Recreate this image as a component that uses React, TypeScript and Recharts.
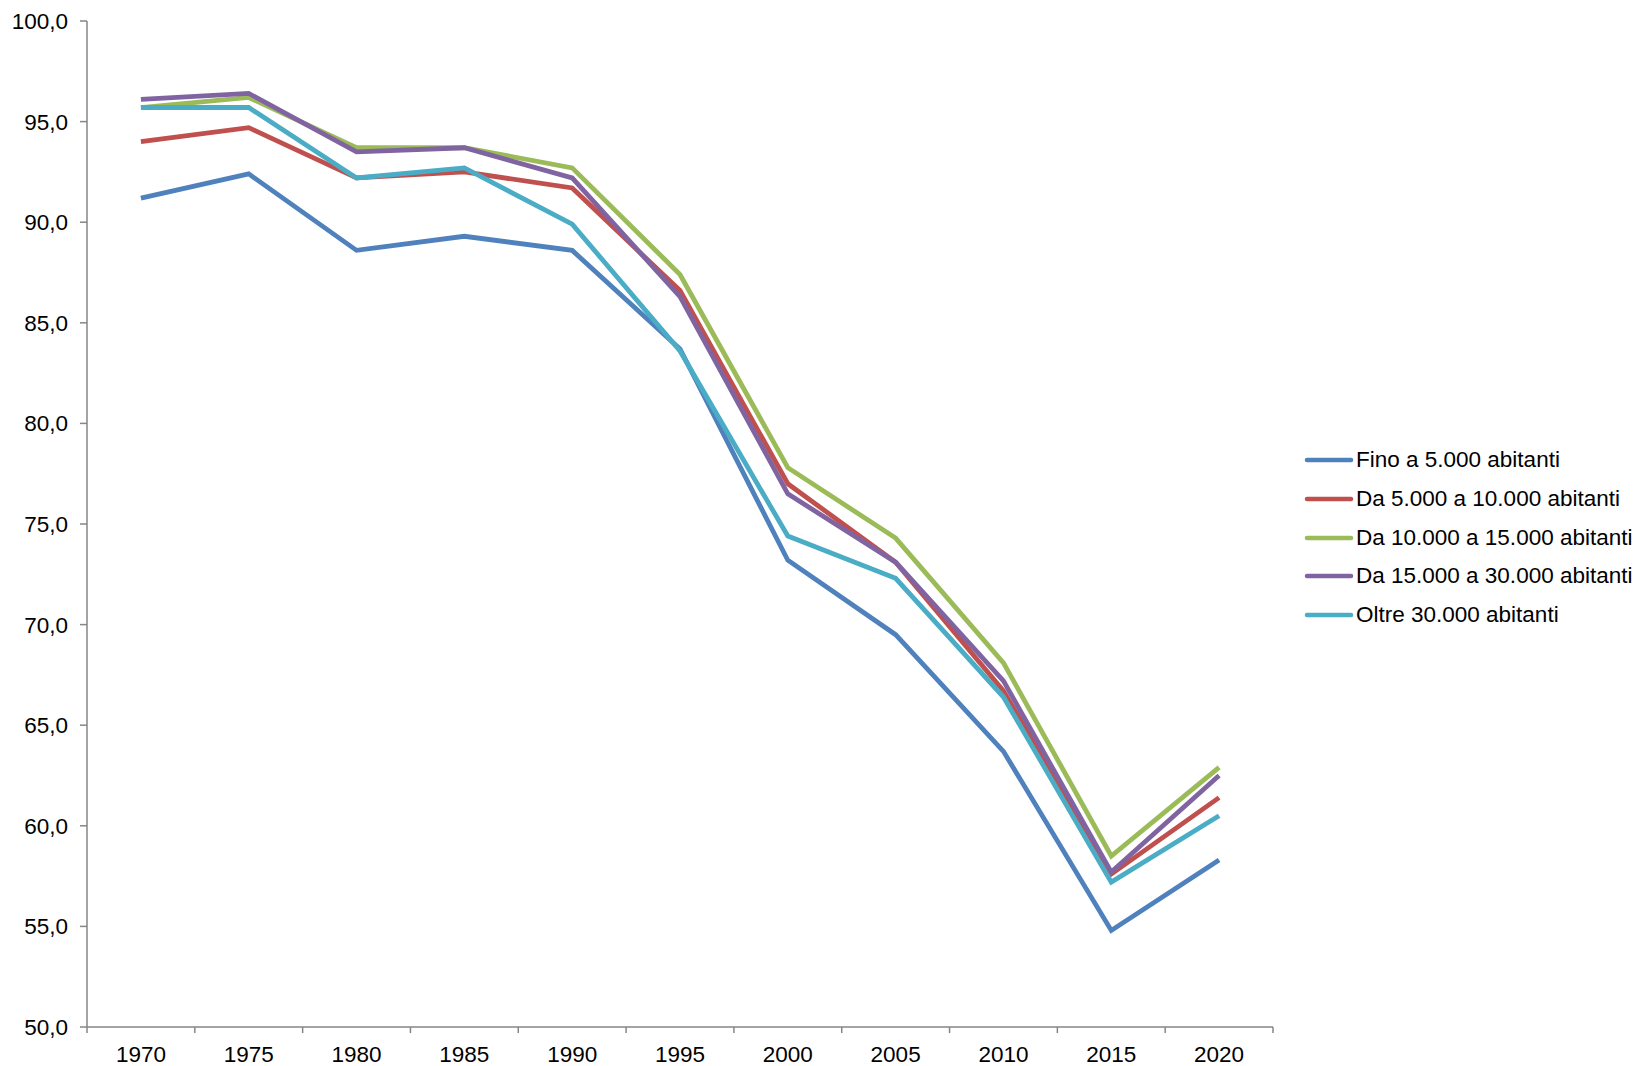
import { Line, LineChart, ReferenceLine, XAxis, YAxis } from "recharts";

const years = [1970, 1975, 1980, 1985, 1990, 1995, 2000, 2005, 2010, 2015, 2020];
const fino5000 = [91.2, 92.4, 88.6, 89.3, 88.6, 83.7, 73.2, 69.5, 63.7, 54.8, 58.3];
const da5a10 = [94.0, 94.7, 92.2, 92.5, 91.7, 86.6, 77.0, 73.1, 66.7, 57.6, 61.4];
const da10a15 = [95.7, 96.2, 93.7, 93.7, 92.7, 87.4, 77.8, 74.3, 68.1, 58.5, 62.9];
const da15a30 = [96.1, 96.4, 93.5, 93.7, 92.2, 86.3, 76.5, 73.1, 67.2, 57.7, 62.5];
const oltre30 = [95.7, 95.7, 92.2, 92.7, 89.9, 83.6, 74.4, 72.3, 66.4, 57.2, 60.5];

const yTicks = [50, 55, 60, 65, 70, 75, 80, 85, 90, 95, 100];
// category boundaries (Excel puts tick marks between the categories)
const bounds = [1967.5, 1972.5, 1977.5, 1982.5, 1987.5, 1992.5, 1997.5, 2002.5, 2007.5, 2012.5, 2017.5, 2022.5];

const SERIES = [
  { key: "fino5000", name: "Fino a 5.000 abitanti", color: "#4F81BD", values: fino5000 },
  { key: "da5a10", name: "Da 5.000 a 10.000 abitanti", color: "#C0504D", values: da5a10 },
  { key: "da10a15", name: "Da 10.000 a 15.000 abitanti", color: "#9BBB59", values: da10a15 },
  { key: "da15a30", name: "Da 15.000 a 30.000 abitanti", color: "#8064A2", values: da15a30 },
  { key: "oltre30", name: "Oltre 30.000 abitanti", color: "#4BACC6", values: oltre30 },
];

const data = years.map((year, i) => {
  const row: Record<string, number> = { year };
  SERIES.forEach((s) => {
    row[s.key] = s.values[i];
  });
  return row;
});

const FONT = "'Liberation Sans', Arial, sans-serif";
const AXIS = "#868686";

function LegendBox() {
  return (
    <div
      style={{
        position: "absolute",
        left: 1304,
        top: 441,
        fontFamily: FONT,
        fontSize: 22.5,
        color: "#000",
      }}
    >
      {SERIES.map((s) => (
        <div
          key={s.key}
          style={{ display: "flex", alignItems: "center", height: 38.7, whiteSpace: "nowrap" }}
        >
          <svg width={50} height={8} style={{ marginRight: 2 }}>
            <line x1={3} y1={4} x2={47} y2={4} stroke={s.color} strokeWidth={4.5} strokeLinecap="round" />
          </svg>
          <span>{s.name}</span>
        </div>
      ))}
    </div>
  );
}

export default function App() {
  return (
    <div style={{ position: "absolute", left: 0, top: 0, width: 1641, height: 1066, background: "#fff" }}>
      <LineChart
        width={1641}
        height={1066}
        data={data}
        margin={{ top: 21, right: 368, bottom: 0, left: 0 }}
        style={{ fontFamily: FONT }}
      >
        <XAxis
          type="number"
          dataKey="year"
          domain={[1967.5, 2022.5]}
          ticks={years}
          interval={0}
          tickLine={false}
          tickSize={7}
          tickMargin={12}
          axisLine={{ stroke: AXIS, strokeWidth: 1.5 }}
          tick={{ fill: "#000", fontSize: 22.5 }}
          height={39}
          allowDataOverflow
        />
        <YAxis
          type="number"
          domain={[50, 100]}
          ticks={yTicks}
          interval={0}
          width={87}
          tickSize={7}
          tickMargin={12}
          tickLine={{ stroke: AXIS, strokeWidth: 1.5 }}
          axisLine={{ stroke: AXIS, strokeWidth: 1.5 }}
          tick={{ fill: "#000", fontSize: 22.5 }}
          tickFormatter={(v: number) => v.toFixed(1).replace(".", ",")}
        />
        {bounds.map((b) => (
          <ReferenceLine
            key={b}
            segment={[
              { x: b, y: 50 },
              { x: b, y: 49.7 },
            ]}
            stroke={AXIS}
            strokeWidth={1.5}
            ifOverflow="visible"
          />
        ))}
        {SERIES.map((s) => (
          <Line
            key={s.key}
            type="linear"
            dataKey={s.key}
            name={s.name}
            stroke={s.color}
            strokeWidth={4.8}
            dot={false}
            activeDot={false}
            isAnimationActive={false}
          />
        ))}
      </LineChart>
      <LegendBox />
    </div>
  );
}
